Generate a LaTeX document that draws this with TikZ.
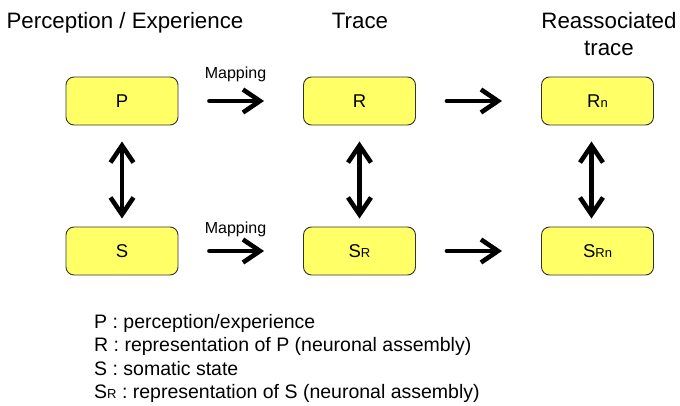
\documentclass[tikz,border=0pt]{standalone}
\usepackage{fontspec}
\setmainfont{Liberation Sans}
\usetikzlibrary{arrows.meta}
\usetikzlibrary{positioning}
\definecolor{boxyellow}{RGB}{255,255,102}
\tikzstyle{every node}=[font=\fontsize{18.5}{20}\selectfont]
\tikzstyle{every path}=[line cap=round,line join=round]
\tikzstyle{box}=[draw=black!80,line width=0.9pt,fill=boxyellow,rounded corners=8pt,
  minimum width=112pt,minimum height=48pt,inner sep=0pt]
\tikzstyle{arr}=[line width=4.6pt,-{Straight Barb[length=17pt,width=23pt]}]
\tikzstyle{harr}=[arr,shorten <=31pt,shorten >=39pt]
\tikzstyle{varr}=[line width=4.6pt,{Straight Barb[length=17pt,width=23pt]}-{Straight Barb[length=17pt,width=23pt]},
  shorten <=16pt,shorten >=8pt]
\tikzstyle{title}=[font=\fontsize{22.3}{27}\selectfont,anchor=base,align=center]
\tikzstyle{maplabel}=[font=\fontsize{16}{18}\selectfont,anchor=base]
\tikzstyle{legend}=[font=\fontsize{19.5}{23}\selectfont,anchor=base west,inner sep=0pt]
\newcommand{\lowtxt}[1]{{\fontsize{13}{13}\selectfont #1}}

\begin{document}
\begin{tikzpicture}[x=1pt,y=-1pt]
\useasboundingbox (0,0) rectangle (680,405);
% column heads
\node[title] (hp) at (125,28) {Perception / Experience};
\node[title] (ht) at (360,28) {Trace};
\node[title] (hr) at (609,55) {Reassociated\\trace};
% boxes
\node[box] (P) at (122,101) {P};
\node[box] (R) at (359.5,101) {R};
\node[box] (Rn) at (597.5,101) {R\lowtxt{n}};
\node[box] (S) at (122,251) {S};
\node[box] (SR) at (359.5,251) {S\lowtxt{R}};
\node[box] (SRn) at (597.5,251) {S\lowtxt{Rn}};
% mapping
\node[maplabel] (m1) at (235.5,78) {Mapping};
\node[maplabel] (m2) at (235.5,233) {Mapping};
\draw[harr] (P.east) -- (R.west);
\draw[harr] (R.east) -- (Rn.west);
\draw[harr] (S.east) -- (SR.west);
\draw[harr] (SR.east) -- (SRn.west);
% up/down
\draw[varr] (P.south) -- (S.north);
\draw[varr] (R.south) -- (SR.north);
\draw[varr] ([xshift=-6pt]Rn.south) -- ([xshift=-6pt]SRn.north);
% legend
\node[legend] (l1) at (94,328) {P : perception/experience};
\node[legend] (l2) at (94,351.5) {R : representation of P (neuronal assembly)};
\node[legend] (l3) at (94,375) {S : somatic state};
\node[legend] (l4) at (94,398) {S\lowtxt{R} : representation of S (neuronal assembly)};
\end{tikzpicture}
\end{document}
